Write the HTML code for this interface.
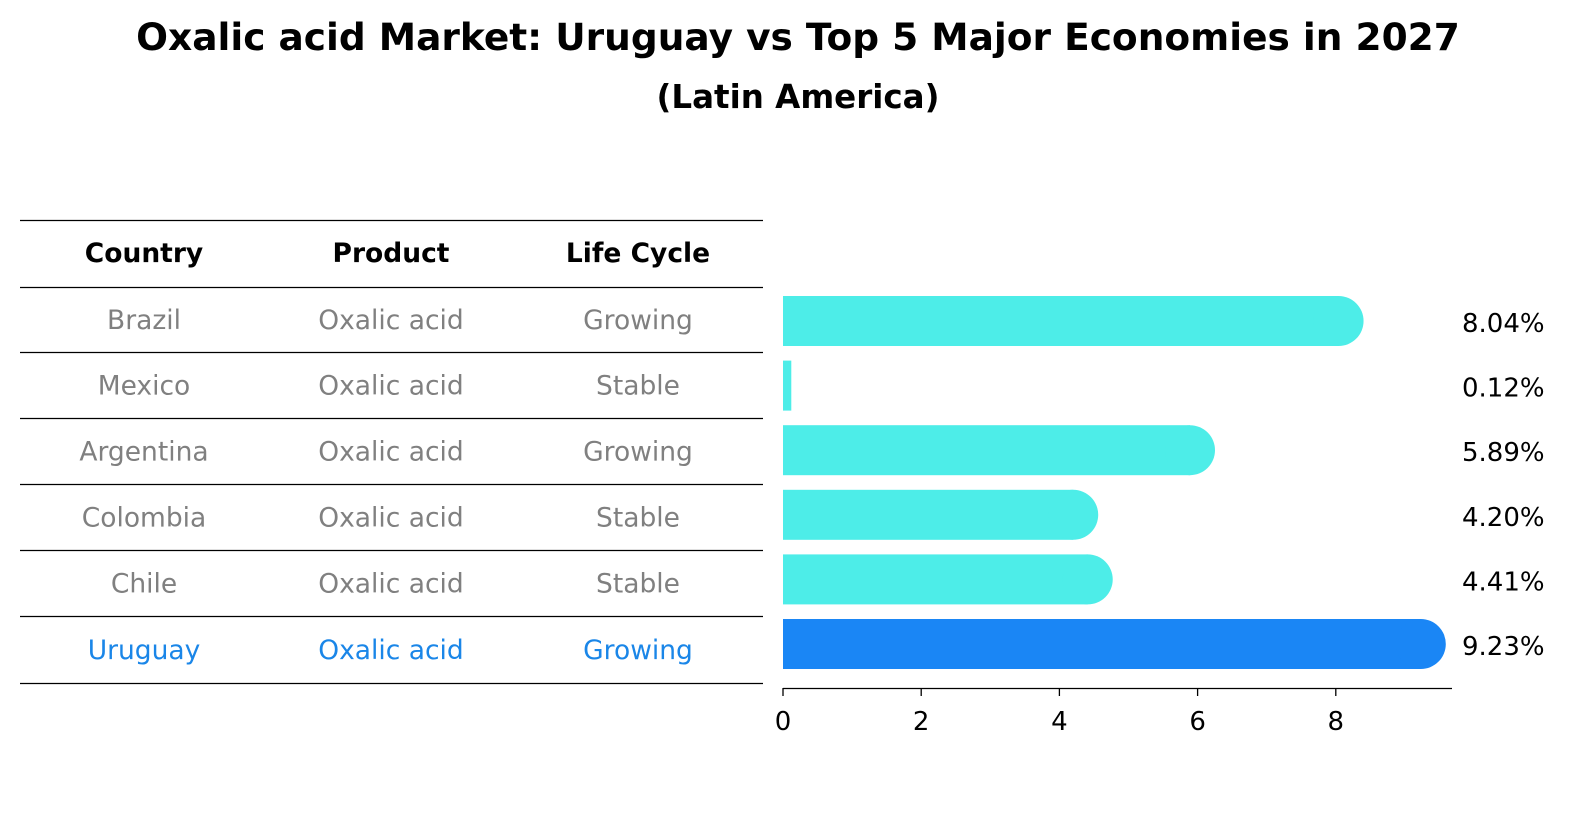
<!DOCTYPE html>
<html><head><meta charset="utf-8"><style>
html,body{margin:0;padding:0;background:#fff;overflow:hidden;width:1586px;height:823px}
svg{display:block}
svg text{font-family:"DejaVu Sans","Liberation Sans",sans-serif}
</style></head><body>
<svg id="c" width="1586" height="823" viewBox="0 0 1586 823">
<text x="798" y="50" text-anchor="middle" font-size="37.5" font-weight="bold">Oxalic acid Market: Uruguay vs Top 5 Major Economies in 2027</text>
<text x="798" y="108" text-anchor="middle" font-size="32.5" font-weight="bold">(Latin America)</text>
<g id="table"></g>
<g id="bars"></g>
</svg>
<script>
const countries=["Brazil","Mexico","Argentina","Colombia","Chile","Uruguay"];
const products=["Oxalic acid","Oxalic acid","Oxalic acid","Oxalic acid","Oxalic acid","Oxalic acid"];
const cycles=["Growing","Stable","Growing","Stable","Stable","Growing"];
const values=[8.04,0.12,5.89,4.20,4.41,9.23];
const ticks=[0,2,4,6,8];
const NS="http://www.w3.org/2000/svg";
function mk(t,a,p){const e=document.createElementNS(NS,t);for(const k in a)e.setAttribute(k,a[k]);p.appendChild(e);return e;}
const tb=document.getElementById('table'),bg=document.getElementById('bars');
const rowY=[220.5,287.5,352.5,418.5,484.5,550.5,616.5,683.5];
const colX=[144,391,638];
rowY.forEach((y,i)=>{const l=mk('line',{x1:20,x2:763,y1:y,y2:y,stroke:'#000','stroke-width':1.2},tb);

});
["Country","Product","Life Cycle"].forEach((h,i)=>{const t=mk('text',{x:colX[i],y:262,'text-anchor':'middle','font-size':26.5,'font-weight':'bold'},tb);t.textContent=h;

});
const x=v=>783+v*69.1;
const yc=i=>321+i*64.6;
countries.forEach((c,i)=>{
  const last=i===countries.length-1;
  const col=last?'#1a86e8':'#808080';
  [c,products[i],cycles[i]].forEach((s,j)=>{const t=mk('text',{x:colX[j],y:(rowY[i+1]+rowY[i+2])/2+9,'text-anchor':'middle','font-size':26.5,fill:col},tb);t.textContent=s;
  
  });
  const bc=last?'#1a86f5':'#4dede8';
  const w=x(values[i])-783, r=25;
  const b=mk('rect',{x:783,y:yc(i)-25,width:w,height:50,fill:bc},bg);
  
  
  if(w>r){const cp=mk('circle',{cx:x(values[i]),cy:yc(i),r:r,fill:bc},bg);
  
  }
  const lt=mk('text',{x:1462,y:yc(i)+11,'font-size':26},bg);lt.textContent=values[i].toFixed(2)+'%';
  
  
});
const ax=mk('line',{x1:783,x2:1452,y1:688.5,y2:688.5,stroke:'#000','stroke-width':1.3},bg);


ticks.forEach(t=>{const tl=mk('line',{x1:x(t),x2:x(t),y1:688,y2:696,stroke:'#000','stroke-width':1.3},bg);


const tt=mk('text',{x:x(t),y:730,'text-anchor':'middle','font-size':26},bg);tt.textContent=t;

});
</script>
</body></html>
